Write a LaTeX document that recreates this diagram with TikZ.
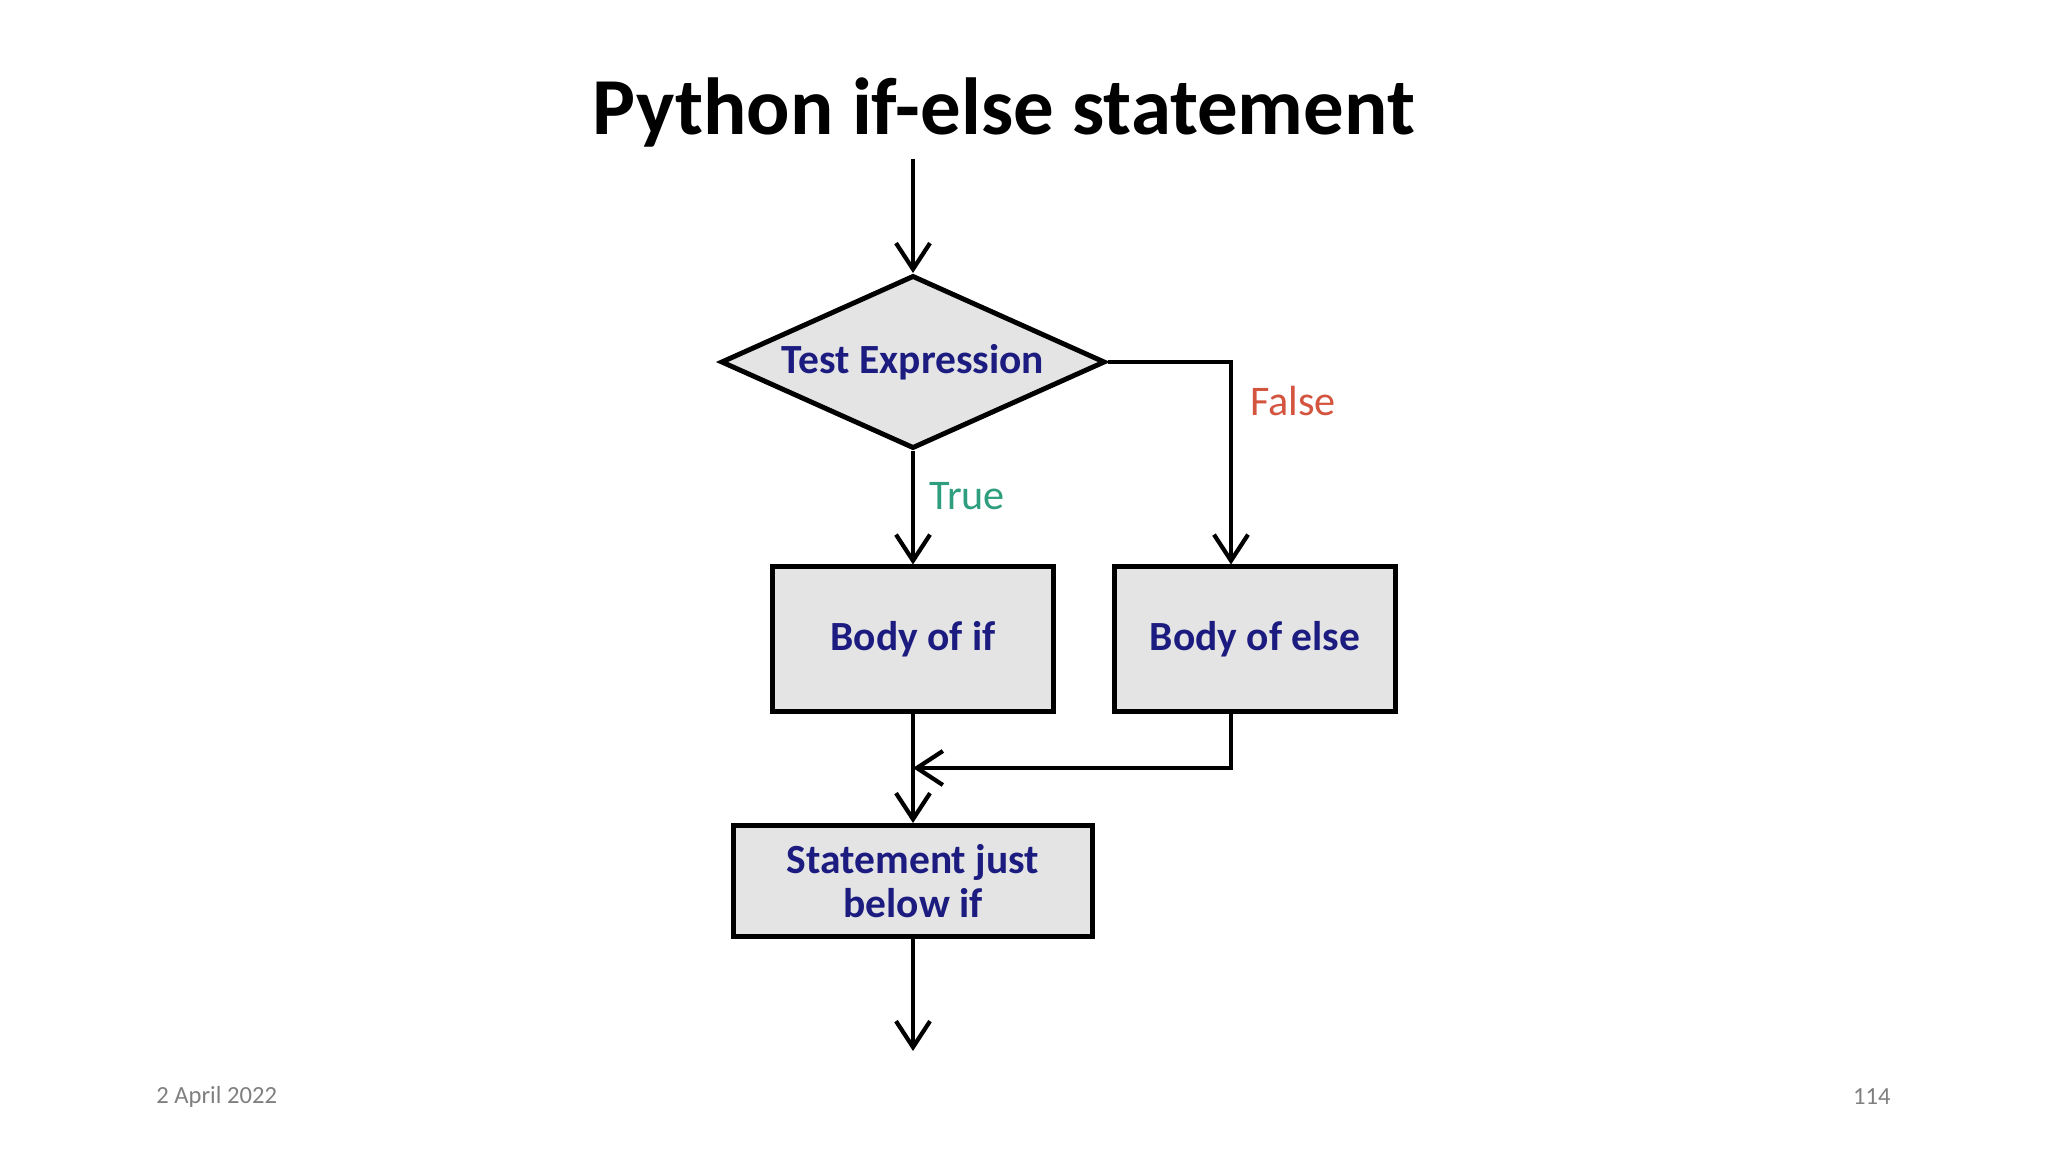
\documentclass[tikz,border=0pt]{standalone}
\usepackage{fontspec}
\setmainfont{Carlito}
\usetikzlibrary{shapes.geometric,arrows.meta}
\definecolor{navy}{HTML}{1C1C80}
\definecolor{truecol}{HTML}{2E9E7E}
\definecolor{falsecol}{HTML}{D4553F}
\definecolor{boxfill}{HTML}{E4E4E4}
\definecolor{footgray}{HTML}{7F7F7F}
\tikzset{
  flowbox/.style={draw=black, line width=1.4pt, fill=boxfill, inner sep=0pt,
    font=\fontsize{11.8pt}{12.5pt}\selectfont\bfseries, text=navy, align=center},
  decision/.style={flowbox, shape=diamond, aspect=2.22, minimum width=3.84cm, minimum height=1.73cm},
  arr/.style={draw=black, line width=1.2pt, -{Straight Barb[length=0.26cm,width=0.34cm]}},
  lbl/.style={font=\fontsize{12pt}{14pt}\selectfont}
}
\begin{document}
\begin{tikzpicture}[x=0.01cm,y=-0.01cm]
\useasboundingbox (0,0) rectangle (2048,1152);
\node[font=\fontsize{23pt}{27pt}\selectfont\bfseries] (title) at (1004,112) {Python if-else statement};
\coordinate (start) at (913,159);
\node[decision] (test) at (913,362) {Test Expression};
\node[flowbox, minimum width=2.81cm, minimum height=1.44cm] (bif) at (913,639) {Body of if};
\node[flowbox, minimum width=2.81cm, minimum height=1.44cm] (belse) at (1255,639) {Body of else};
\node[flowbox, minimum width=3.59cm, minimum height=1.11cm] (stmt) at (913,881) {Statement just\\below if};
\coordinate (elsex) at (1231,0);
\coordinate (merge) at (913,768);
\coordinate (finish) at (913,1051);
\node[lbl, text=truecol] (truelbl) at (967,496) {True};
\node[lbl, text=falsecol] (falselbl) at (1293,401) {False};
\draw[arr] (start) -- (test.north);
\draw[arr] (test.south) -- (bif.north);
\draw[arr] (test.east) -| (elsex |- belse.north);
\draw[arr] (bif.south) -- (stmt.north);
\draw[arr] (elsex |- belse.south) |- (merge);
\draw[arr] (stmt.south) -- (finish);
\node[font=\fontsize{7pt}{9pt}\selectfont, text=footgray, anchor=west] (date) at (144,1097) {2 April 2022};
\node[font=\fontsize{7pt}{9pt}\selectfont, text=footgray, anchor=east] (page) at (1903,1097) {114};
\end{tikzpicture}
\end{document}
